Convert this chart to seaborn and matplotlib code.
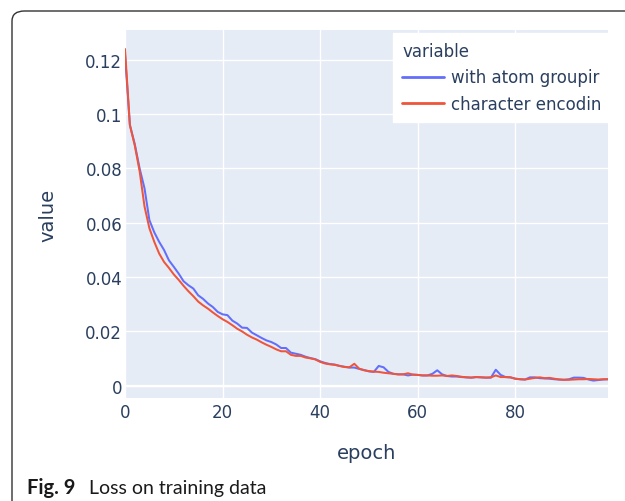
import matplotlib
matplotlib.use('Agg')
import matplotlib.pyplot as plt
from matplotlib.patches import FancyBboxPatch
import pandas as pd
import seaborn as sns

# 데이터
epochs = list(range(100))
loss_atom = [
    0.122, 0.096, 0.089, 0.080, 0.0727, 0.061, 0.0565, 0.053, 0.050, 0.0462,
    0.0438, 0.0413, 0.0385, 0.037, 0.0358, 0.0333, 0.032, 0.0303, 0.029, 0.0272,
    0.0263, 0.026, 0.024, 0.0229, 0.0214, 0.0213, 0.0196, 0.0186, 0.0176, 0.0167,
    0.0161, 0.0152, 0.0139, 0.0139, 0.0122, 0.0118, 0.0114, 0.0107, 0.0102, 0.0098,
    0.0090, 0.0084, 0.008, 0.0078, 0.0073, 0.007, 0.0067, 0.0067, 0.0062, 0.0058,
    0.0053, 0.0051, 0.0073, 0.0068, 0.0051, 0.0044, 0.0042, 0.0042, 0.0038, 0.0041,
    0.004, 0.0038, 0.0038, 0.0044, 0.0057, 0.0042, 0.0036, 0.0034, 0.0034, 0.0032,
    0.0031, 0.003, 0.0032, 0.0031, 0.003, 0.003, 0.0059, 0.004, 0.0032, 0.0031,
    0.0026, 0.0024, 0.0023, 0.0031, 0.0031, 0.0028, 0.0027, 0.0026, 0.0024, 0.0023,
    0.0022, 0.0024, 0.003, 0.003, 0.0029, 0.0023, 0.0019, 0.0021, 0.0023, 0.0024,
]
loss_char = [
    0.124, 0.096, 0.0885, 0.079, 0.066, 0.058, 0.053, 0.0487, 0.0456, 0.0434,
    0.041, 0.039, 0.0368, 0.0348, 0.033, 0.031, 0.0296, 0.0284, 0.027, 0.0257,
    0.0245, 0.0235, 0.0223, 0.021, 0.020, 0.0188, 0.0178, 0.017, 0.016, 0.0151,
    0.0143, 0.0134, 0.0127, 0.0127, 0.0114, 0.011, 0.011, 0.0104, 0.0101, 0.0097,
    0.0088, 0.0082, 0.0079, 0.0077, 0.0073, 0.0069, 0.0068, 0.0081, 0.0063, 0.0057,
    0.0054, 0.0052, 0.0051, 0.0048, 0.0046, 0.0044, 0.0042, 0.0042, 0.0046, 0.0041,
    0.004, 0.0038, 0.0038, 0.0037, 0.0037, 0.0038, 0.0036, 0.0038, 0.0036, 0.0033,
    0.0031, 0.003, 0.0032, 0.0031, 0.003, 0.0031, 0.0038, 0.0032, 0.0032, 0.0031,
    0.0026, 0.0024, 0.0023, 0.0026, 0.0029, 0.0031, 0.0028, 0.0029, 0.0026, 0.0023,
    0.0022, 0.0022, 0.0023, 0.0024, 0.0024, 0.0025, 0.0024, 0.0023, 0.0024, 0.0024,
]
series_names = ['with atom groupir', 'character encodin']
series_colors = ['#636efa', '#EF553B']
yticks = [0, 0.02, 0.04, 0.06, 0.08, 0.1, 0.12]
ytick_labels = ['0', '0.02', '0.04', '0.06', '0.08', '0.1', '0.12']
xticks = [0, 20, 40, 60, 80]

df = pd.DataFrame({
    'epoch': epochs * 2,
    'value': loss_atom + loss_char,
    'variable': [series_names[0]] * len(epochs) + [series_names[1]] * len(epochs),
})

sns.set_style('white')
plt.rcParams['font.family'] = ['DejaVu Sans']
txt = '#2a3f5f'

fig = plt.figure(figsize=(6.25, 5.02), dpi=100)
ax = fig.add_axes([0.2, 0.2052, 0.7728, 0.7331])
ax.set_facecolor('#E5ECF6')

sns.lineplot(data=df, x='epoch', y='value', hue='variable',
             palette=series_colors, linewidth=1.45, ax=ax, zorder=3)

# 격자
ax.set_xticks(xticks)
ax.set_yticks(yticks)
ax.set_yticklabels(ytick_labels)
ax.grid(True, color='white', linewidth=1.0, zorder=0)
ax.set_axisbelow(True)
ax.axhline(0, color='white', linewidth=1.6, zorder=1)
ax.set_xlim(0, 99)
ax.set_ylim(-0.0045, 0.131)
for s in ax.spines.values():
    s.set_visible(False)
ax.tick_params(axis='both', length=0, labelsize=12, labelcolor=txt)
ax.tick_params(axis='y', pad=2)
ax.tick_params(axis='x', pad=3.5)
ax.set_xlabel('epoch', fontsize=14, color=txt, va='top')
ax.set_ylabel('value', fontsize=14, color=txt)
ax.xaxis.set_label_coords(0.5, -0.122)
ax.yaxis.set_label_coords(-0.139, 0.5)

# 범례
leg = ax.legend(title='variable', loc='upper left',
                bbox_to_anchor=(393 / 625, 1 - 34 / 502),
                bbox_transform=fig.transFigure, borderaxespad=0,
                frameon=True, fancybox=False, fontsize=12,
                title_fontsize=12, handlelength=2.5, handletextpad=0.45,
                labelspacing=0.5, borderpad=0.55, alignment='left')
leg.get_frame().set_facecolor('white')
leg.get_frame().set_edgecolor('white')
leg.get_frame().set_alpha(1)
leg.get_title().set_color(txt)
for t in leg.get_texts():
    t.set_color(txt)
for h in leg.get_lines():
    h.set_linewidth(2.0)

# 바깥 테두리 박스
box = FancyBboxPatch((12 / 625, -0.1), 1.2, 1.1 - 12 / 502,
                     boxstyle='round,pad=0,rounding_size=0.02',
                     transform=fig.transFigure, facecolor='none',
                     edgecolor='#333333', linewidth=1.0, clip_on=False)
fig.patches.append(box)

# 캡션
fig.text(27 / 625, 1 - 494 / 502, 'Fig. 9', fontsize=14.5, fontweight='bold',
         color='#1a1a1a', va='baseline', family=['Lato', 'DejaVu Sans'])
fig.text(89 / 625, 1 - 494 / 502, 'Loss on training data', fontsize=14,
         color='#1a1a1a', va='baseline', family=['Lato', 'DejaVu Sans'])

fig.savefig('out.png', dpi=100)
